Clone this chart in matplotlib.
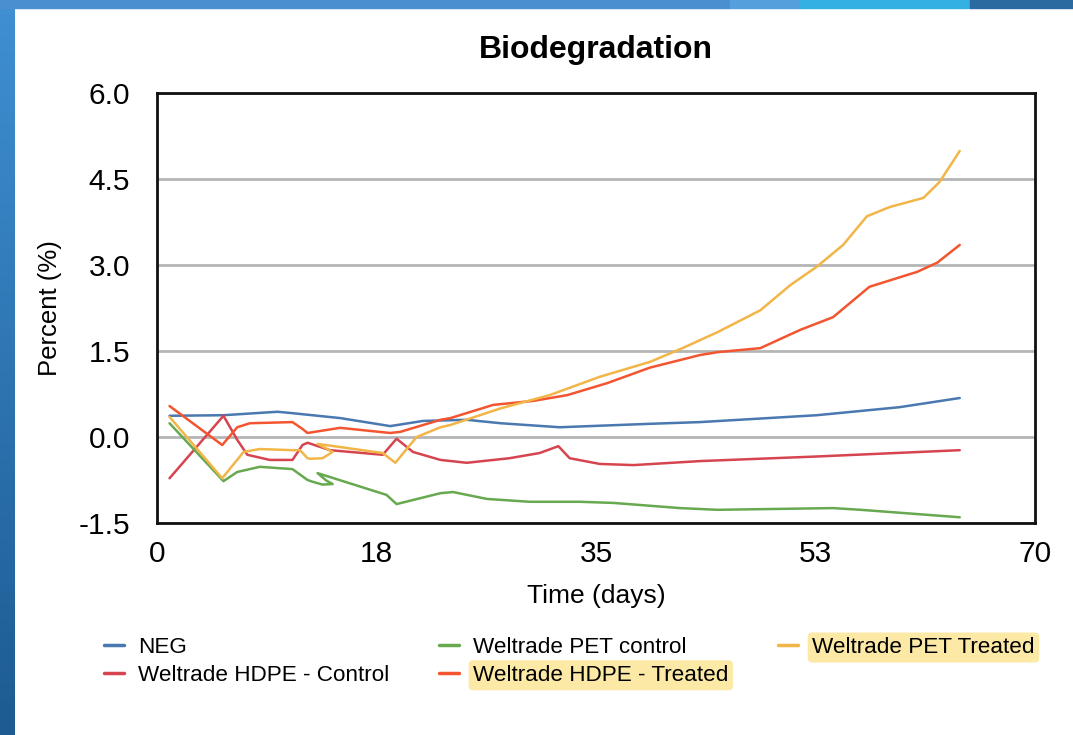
import matplotlib
matplotlib.use("Agg")
import matplotlib.pyplot as plt
import numpy as np
from matplotlib.patches import Rectangle

plt.rcParams['font.family'] = ['Liberation Sans', 'DejaVu Sans']

# data (day, percent)
neg_days = [1.0, 5.3, 9.6, 10.6, 14.6, 18.6, 21.2, 24.7, 27.4, 32.1, 39.3, 43.3, 52.6, 59.2, 64.0]
neg_vals = [0.37, 0.38, 0.44, 0.42, 0.33, 0.19, 0.28, 0.30, 0.24, 0.17, 0.23, 0.26, 0.38, 0.52, 0.68]

hdpe_ctrl_days = [1.0, 5.3, 6.4, 7.2, 9.0, 10.8, 11.6, 12.0, 13.8, 18.0, 19.1, 20.4, 22.6, 24.7,
                  28.1, 30.5, 32.0, 32.9, 35.3, 38.0, 43.3, 52.6, 64.0]
hdpe_ctrl_vals = [-0.72, 0.37, -0.05, -0.31, -0.40, -0.40, -0.14, -0.10, -0.23, -0.31, -0.03, -0.26,
                  -0.40, -0.45, -0.37, -0.28, -0.16, -0.37, -0.47, -0.49, -0.42, -0.34, -0.23]

pet_ctrl_days = [1.0, 5.3, 6.4, 8.2, 10.8, 12.0, 12.4, 13.2, 14.0, 13.5, 12.8, 18.3, 19.1, 22.6,
                 23.6, 26.3, 29.7, 33.7, 36.4, 41.7, 44.7, 53.9, 56.1, 64.0]
pet_ctrl_vals = [0.24, -0.77, -0.61, -0.52, -0.56, -0.75, -0.78, -0.83, -0.82, -0.76, -0.63, -1.01,
                 -1.17, -0.98, -0.96, -1.08, -1.13, -1.13, -1.15, -1.24, -1.27, -1.24, -1.27, -1.40]

hdpe_trt_days = [1.0, 5.2, 6.4, 7.4, 10.8, 11.6, 12.0, 14.6, 18.6, 19.4, 22.6, 23.4, 26.8, 30.0,
                 32.7, 35.9, 39.3, 43.3, 44.7, 48.1, 51.3, 53.9, 56.8, 60.6, 62.2, 64.0]
hdpe_trt_vals = [0.54, -0.14, 0.17, 0.24, 0.26, 0.14, 0.07, 0.16, 0.07, 0.09, 0.30, 0.33, 0.56, 0.63,
                 0.73, 0.94, 1.21, 1.43, 1.48, 1.55, 1.87, 2.09, 2.62, 2.88, 3.04, 3.35]

pet_trt_days = [1.0, 5.2, 6.9, 8.2, 10.8, 11.4, 12.0, 12.2, 13.2, 14.0, 12.8, 18.0, 19.0, 20.7,
                22.6, 23.4, 27.4, 31.3, 35.3, 39.3, 41.9, 44.7, 48.1, 50.5, 52.6, 54.7, 56.6,
                58.4, 61.1, 62.4, 64.0]
pet_trt_vals = [0.35, -0.72, -0.26, -0.21, -0.23, -0.23, -0.37, -0.38, -0.37, -0.26, -0.12, -0.28,
                -0.45, 0.00, 0.17, 0.21, 0.50, 0.73, 1.05, 1.31, 1.55, 1.83, 2.21, 2.65, 2.97,
                3.35, 3.85, 4.01, 4.17, 4.45, 4.99]

series = [
    ("NEG", neg_days, neg_vals, '#4a78b0'),
    ("Weltrade HDPE - Control", hdpe_ctrl_days, hdpe_ctrl_vals, '#d6454f'),
    ("Weltrade PET control", pet_ctrl_days, pet_ctrl_vals, '#67a94f'),
    ("Weltrade HDPE - Treated", hdpe_trt_days, hdpe_trt_vals, '#f35530'),
    ("Weltrade PET Treated", pet_trt_days, pet_trt_vals, '#f2b548'),
]

x_ticks = [0, 17.5, 35, 52.5, 70]
x_labels = ['0', '18', '35', '53', '70']
y_ticks = [-1.5, 0.0, 1.5, 3.0, 4.5, 6.0]

fig = plt.figure(figsize=(10.73, 7.35), dpi=100)

# slide decoration: top bar and left strip
bar_h = 8 / 735
for x0, w, c in [(0, 730, '#4a8fd0'), (730, 70, '#55a0dc'), (800, 170, '#35b0e2'), (970, 103, '#2a6aa0')]:
    fig.patches.append(Rectangle((x0 / 1073, 1 - bar_h), w / 1073, bar_h, transform=fig.transFigure,
                                 color=c, zorder=0))
strip = fig.add_axes([0, 0, 15 / 1073, 1 - bar_h])
strip.imshow(np.linspace(0, 1, 100).reshape(-1, 1), aspect='auto',
             cmap=matplotlib.colors.LinearSegmentedColormap.from_list('s', ['#3f8fd2', '#1d5b92']))
strip.axis('off')

ax = fig.add_axes([157 / 1073, 1 - 523 / 735, 878 / 1073, 430 / 735])

for name, d, v, c in series:
    ax.plot(d, v, color=c, lw=1.8, label=name, solid_joinstyle='round', solid_capstyle='round', zorder=3)

ax.set_xlim(0, 70)
ax.set_ylim(-1.5, 6.0)
ax.set_xticks(x_ticks)
ax.set_xticklabels(x_labels)
ax.set_yticks(y_ticks)
ax.set_yticklabels(['%.1f' % t for t in y_ticks])
ax.tick_params(length=0, labelsize=21.5)
ax.tick_params(axis='y', pad=19.5)
ax.tick_params(axis='x', pad=12)
ax.grid(axis='y', color='#b5b5b5', lw=2)
ax.set_axisbelow(True)
for s in ax.spines.values():
    s.set_linewidth(2)
    s.set_color('#111111')

ax.set_title('Biodegradation', fontsize=23, fontweight='bold', pad=25)
ax.set_xlabel('Time (days)', fontsize=19, labelpad=12)
ax.set_ylabel('Percent (%)', fontsize=18.5, labelpad=12)

leg = fig.legend(loc='upper left', bbox_to_anchor=(104 / 1073, 1 - 637 / 735), ncol=3,
                 frameon=False, fontsize=16.2, handlelength=0.9, handletextpad=0.62,
                 columnspacing=2.2, labelspacing=0.3, borderpad=0, borderaxespad=0)
for line in leg.get_lines():
    line.set_linewidth(2.5)
for t in leg.get_texts():
    if 'Treated' in t.get_text():
        t.set_bbox(dict(boxstyle='round,pad=0.2', fc='#fce9a6', ec='none'))

fig.savefig('out.png', dpi=100)
